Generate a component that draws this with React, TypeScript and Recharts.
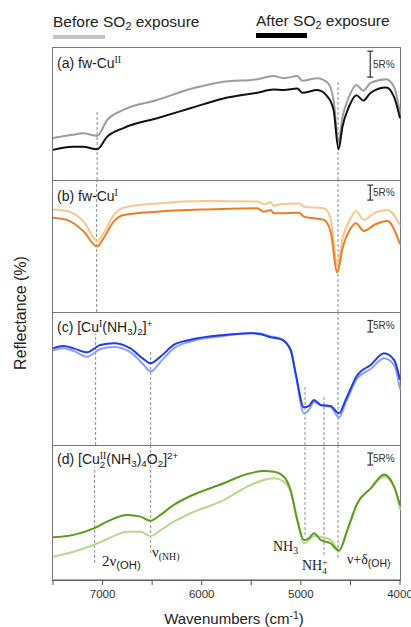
import { LineChart, Line, XAxis, YAxis, ReferenceLine } from 'recharts';

// wavenumbers (cm-1) and reflectance (R%) read per panel
const WN_A = [7500, 7300, 7200, 7055, 6955, 6790, 6450, 6115, 5780, 5440, 5275, 5170, 5035, 4985, 4835, 4730, 4670, 4620, 4580, 4515, 4440, 4370, 4295, 4140, 4060, 4000];
const BEFORE_A = [8.1, 8.7, 9.0, 8.5, 11.5, 13.5, 15.4, 17.5, 18.9, 19.4, 20.0, 19.6, 20.0, 19.1, 19.6, 18.7, 15.4, 7.3, 12.1, 16.0, 18.3, 17.2, 18.7, 19.4, 17.9, 12.9];
const AFTER_A = [5.8, 6.4, 6.4, 5.9, 8.3, 10.0, 11.9, 13.8, 15.7, 16.8, 17.4, 17.3, 17.6, 16.8, 17.3, 16.0, 13.5, 5.9, 10.3, 14.1, 16.3, 15.3, 16.8, 17.8, 16.0, 11.9];

const WN_B = [7500, 7360, 7190, 7055, 6990, 6888, 6787, 6450, 5944, 5440, 5373, 5305, 5272, 5205, 5020, 4969, 4767, 4700, 4632, 4580, 4497, 4446, 4363, 4262, 4127, 4000];
const BEFORE_B = [34.2, 33.7, 30.1, 23.7, 26.2, 32.3, 34.8, 36.2, 37.0, 36.8, 35.9, 36.6, 35.4, 35.9, 36.2, 35.1, 34.6, 31.2, 15.7, 24.6, 31.2, 33.7, 30.7, 32.9, 34.0, 29.0];
const AFTER_B = [31.4, 30.7, 26.8, 21.8, 24.6, 30.1, 32.3, 33.4, 34.2, 34.6, 33.4, 34.0, 32.9, 32.9, 33.1, 31.8, 30.7, 26.8, 13.2, 21.2, 27.9, 29.6, 27.0, 29.0, 30.3, 22.6];

const WN_C = [7500, 7393, 7292, 7157, 7022, 6888, 6720, 6585, 6517, 6416, 6282, 6113, 5777, 5507, 5406, 5305, 5205, 5104, 5053, 4969, 4918, 4868, 4800, 4700, 4615, 4548, 4430, 4295, 4161, 4060, 4000];
const BEFORE_C = [41.0, 42.0, 40.9, 38.4, 41.7, 42.6, 40.4, 34.8, 31.9, 36.1, 42.0, 45.0, 47.4, 48.7, 48.5, 47.2, 46.3, 41.7, 30.9, 13.8, 15.2, 18.8, 17.2, 16.5, 12.0, 18.3, 29.1, 33.0, 37.7, 34.8, 24.2];
const AFTER_C = [42.0, 43.0, 42.0, 40.3, 43.5, 44.2, 42.0, 37.3, 35.5, 38.4, 43.5, 45.7, 47.8, 48.6, 48.1, 46.8, 46.0, 41.3, 31.2, 16.4, 17.0, 19.6, 17.4, 17.0, 13.8, 19.6, 30.4, 34.8, 39.9, 37.0, 28.3];

const WN_D = [7500, 7292, 7090, 6955, 6753, 6618, 6517, 6416, 6282, 6113, 5777, 5541, 5373, 5272, 5171, 5104, 5036, 4969, 4918, 4868, 4800, 4700, 4615, 4531, 4430, 4295, 4161, 4060, 4000];
const BEFORE_D = [9.7, 11.8, 14.6, 17.0, 20.1, 20.1, 18.3, 20.8, 24.3, 27.8, 33.3, 38.9, 41.7, 42.4, 41.0, 36.8, 25.0, 15.3, 16.7, 18.3, 18.0, 16.7, 12.5, 20.8, 32.0, 38.2, 43.0, 38.9, 29.2];
const AFTER_D = [17.8, 18.8, 21.5, 24.3, 27.1, 26.4, 24.7, 27.1, 31.3, 35.0, 40.3, 44.2, 45.4, 45.1, 43.0, 37.5, 25.0, 16.7, 17.4, 19.5, 16.7, 15.3, 12.2, 20.8, 32.0, 38.2, 44.0, 38.9, 31.3];

const X_TICKS = [7500, 7000, 6500, 6000, 5500, 5000, 4500, 4000];

// dashed band markers: [wavenumber, from R%, to R%]
const GUIDES_A = [[7055, 0, 13.1], [4625, 0, 19.2]];
const GUIDES_B = [[7060, 0, 44], [4625, 0, 44]];
const GUIDES_C = [[7070, 0, 48.3], [4625, 0, 57.8], [6515, 0, 40.4], [4958, 0, 26], [4767, 0, 21.7]];
const GUIDES_D = [[7080, 7.1, 47], [6515, 11.25, 56.25], [4958, 18.75, 56.25], [4767, 10.4, 56.25], [4625, 9.2, 56.25]];

const SCALE_X = 4300;

type PanelProps = {
  top: number;
  height: number;
  yMax: number;
  wn: number[];
  before: number[];
  after: number[];
  colors: [string, string];
  guides: number[][];
  bar: number;
  axis?: boolean;
};

function Panel({ top, height, yMax, wn, before, after, colors, guides, bar, axis }: PanelProps) {
  const data = wn.map((w, i) => ({ w, before: before[i], after: after[i] }));
  const axisH = axis ? 34 : 0;
  return (
    <div style={{ position: 'absolute', left: 0, top, width: 420, height: height + axisH }}>
      <div
        style={{
          position: 'absolute', left: 52, top: 0, width: 349, height: height + 1,
          border: '1px solid #777', boxSizing: 'border-box',
        }}
      />
      <div style={{ position: 'absolute', left: 0, top: 0 }}>
        <LineChart
          width={420}
          height={height + axisH}
          data={data}
          margin={{ top: 0, right: 20, bottom: 0, left: 53 }}
        >
          <XAxis
            dataKey="w"
            type="number"
            domain={[4000, 7500]}
            reversed
            hide={!axis}
            height={axisH}
            ticks={X_TICKS}
            interval={0}
            tickSize={5}
            tickMargin={5}
            tickFormatter={(v: number) => (v % 1000 === 0 ? String(v) : '')}
            stroke="#555"
            tick={{ fontSize: 11.5, fill: '#333' }}
          />
          <YAxis hide type="number" domain={[0, yMax]} />
          {guides.map(([x, y1, y2], i) => (
            <ReferenceLine
              key={i}
              segment={[{ x, y: y1 }, { x, y: y2 }]}
              stroke="#808080"
              strokeDasharray="3 2"
              strokeWidth={0.9}
            />
          ))}
          <ReferenceLine segment={[{ x: SCALE_X, y: bar }, { x: SCALE_X, y: bar + 5 }]} stroke="#333" strokeWidth={1.2} />
          <ReferenceLine segment={[{ x: SCALE_X + 30, y: bar }, { x: SCALE_X - 30, y: bar }]} stroke="#333" strokeWidth={1.2} />
          <ReferenceLine segment={[{ x: SCALE_X + 30, y: bar + 5 }, { x: SCALE_X - 30, y: bar + 5 }]} stroke="#333" strokeWidth={1.2} />
          <Line type="monotone" dataKey="before" stroke={colors[0]} strokeWidth={2} dot={false} isAnimationActive={false} />
          <Line type="monotone" dataKey="after" stroke={colors[1]} strokeWidth={2} dot={false} isAnimationActive={false} />
        </LineChart>
      </div>
    </div>
  );
}

const serif = '"Liberation Serif", "Times New Roman", serif';
const sans = '"Liberation Sans", Arial, sans-serif';
const abs = (left: number, top: number, extra: React.CSSProperties = {}): React.CSSProperties => ({
  position: 'absolute', left, top, whiteSpace: 'nowrap', lineHeight: '18px', ...extra,
});
const subS: React.CSSProperties = { fontSize: '0.7em', verticalAlign: '-0.3em', lineHeight: 0 };
const supS: React.CSSProperties = { fontSize: '0.7em', verticalAlign: '0.5em', lineHeight: 0 };

function ScaleLabel({ y }: { y: number }) {
  return <div style={abs(373, y - 9, { fontSize: 10, color: '#333' })}>5R%</div>;
}

export default function App() {
  return (
    <div
      style={{
        position: 'absolute', left: 0, top: 0, width: 411, height: 627, background: '#fff',
        overflow: 'hidden', fontFamily: sans, color: '#222',
      }}
    >
      {/* legend */}
      <div style={abs(53, 13, { fontSize: 15.5 })}>Before SO<span style={subS}>2</span> exposure</div>
      <div style={{ position: 'absolute', left: 53, top: 35, width: 52, height: 4, background: '#c4c4c4' }} />
      <div style={abs(256, 12, { fontSize: 15.5 })}>After SO<span style={subS}>2</span> exposure</div>
      <div style={{ position: 'absolute', left: 256, top: 33, width: 51, height: 4.5, background: '#000' }} />

      <Panel top={47} height={133} yMax={25.6} wn={WN_A} before={BEFORE_A} after={AFTER_A}
        colors={['#9d9d9d', '#111']} guides={GUIDES_A} bar={19.8} />
      <Panel top={180} height={132} yMax={44} wn={WN_B} before={BEFORE_B} after={AFTER_B}
        colors={['#f9c690', '#ef7c22']} guides={GUIDES_B} bar={37.3} />
      <Panel top={312} height={133} yMax={57.8} wn={WN_C} before={BEFORE_C} after={AFTER_C}
        colors={['#8ea0f5', '#1f3fe6']} guides={GUIDES_C} bar={49.1} />
      <Panel top={445} height={135} yMax={56.25} wn={WN_D} before={BEFORE_D} after={AFTER_D}
        colors={['#b5d98f', '#5c9c1c']} guides={GUIDES_D} bar={47.9} axis />

      {/* panel titles */}
      <div style={abs(57, 54, { fontSize: 14 })}>(a) fw-Cu<span style={{ ...supS, fontFamily: serif }}>II</span></div>
      <div style={abs(57, 187, { fontSize: 14 })}>(b) fw-Cu<span style={{ ...supS, fontFamily: serif }}>I</span></div>
      <div style={abs(57, 318, { fontSize: 14 })}>
        (c) [Cu<span style={{ ...supS, fontFamily: serif }}>I</span>(NH<span style={subS}>3</span>)<span style={subS}>2</span>]<span style={supS}>+</span>
      </div>
      <div style={abs(57, 450, { fontSize: 14 })}>
        (d) [Cu
        <span style={{ display: 'inline-flex', flexDirection: 'column', verticalAlign: 'middle', fontSize: '0.7em', lineHeight: '9px' }}>
          <span style={{ fontFamily: serif }}>II</span>
          <span>2</span>
        </span>
        (NH<span style={subS}>3</span>)<span style={subS}>4</span>O<span style={subS}>2</span>]<span style={supS}>2+</span>
      </div>

      <ScaleLabel y={64.5} />
      <ScaleLabel y={192.5} />
      <ScaleLabel y={325.5} />
      <ScaleLabel y={458.5} />

      {/* band annotations */}
      <div style={abs(102, 552, { fontSize: 15, fontFamily: serif })}>
        2ν<span style={{ ...subS, fontFamily: sans, fontSize: '0.75em' }}>(OH)</span>
      </div>
      <div style={abs(152, 543, { fontSize: 15, fontFamily: serif })}>
        ν<span style={{ ...subS, fontSize: '0.65em' }}>(NH)</span>
      </div>
      <div style={abs(273, 538, { fontSize: 14, fontFamily: serif })}>
        NH<span style={subS}>3</span>
      </div>
      <div style={abs(302, 557, { fontSize: 14, fontFamily: serif })}>
        NH
        <span style={{ display: 'inline-flex', flexDirection: 'column', verticalAlign: 'middle', fontSize: '0.65em', lineHeight: '9px' }}>
          <span>+</span>
          <span>4</span>
        </span>
      </div>
      <div style={abs(347, 551, { fontSize: 14, fontFamily: serif })}>
        ν+δ<span style={{ ...subS, fontFamily: sans, fontSize: '0.75em' }}>(OH)</span>
      </div>

      {/* axis titles */}
      <div
        style={{
          position: 'absolute', left: -79, top: 303, width: 200, height: 20, lineHeight: '20px',
          textAlign: 'center', fontSize: 16, transform: 'rotate(-90deg)',
        }}
      >
        Reflectance (%)
      </div>
      <div style={{ position: 'absolute', left: 134, top: 610, width: 200, textAlign: 'center', fontSize: 15, lineHeight: '18px' }}>
        Wavenumbers (cm<span style={supS}>-1</span>)
      </div>
    </div>
  );
}
